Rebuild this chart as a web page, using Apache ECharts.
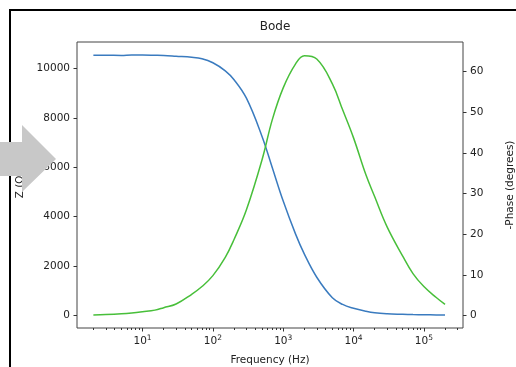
<!DOCTYPE html>
<html>
<head>
<meta charset="utf-8">
<script src="https://cdn.jsdelivr.net/npm/echarts@6/dist/echarts.min.js"></script>
<style>
  html, body { margin: 0; padding: 0; background: #fff; }
  #chart { width: 516px; height: 367px; }
</style>
</head>
<body>
<div id="chart"></div>
<script>
// frequency sweep (Hz)
const freqs = [2, 3, 5, 7, 10, 15, 20, 30, 50, 70, 100, 150, 200, 300, 500, 700,
  1000, 1500, 2000, 3000, 5000, 7000, 10000, 15000, 20000, 30000, 50000, 70000,
  100000, 150000, 200000];
// |Z| in ohms
const impedance = [10540, 10540, 10530, 10550, 10550, 10540, 10530, 10500, 10460, 10400,
  10235, 9910, 9550, 8800, 7250, 5980, 4630, 3290, 2478, 1543, 711, 440,
  284, 162, 100, 61, 40, 28, 20, 16, 12];
// -phase in degrees
const phase = [0.1, 0.2, 0.4, 0.6, 0.9, 1.3, 1.9, 2.8, 5.2, 7.1, 9.8, 14.3, 18.7, 26,
  38.3, 48.2, 56, 61.9, 63.9, 63.1, 57, 50.6, 43.7, 34.6, 29.2, 21.8, 14.6, 10.3,
  7.1, 4.4, 2.7];

const xMajorTicks = [10, 100, 1000, 10000, 100000];
const xMinorTicks = [2, 3, 4, 5, 6, 7, 8, 9, 20, 30, 40, 50, 60, 70, 80, 90,
  200, 300, 400, 500, 600, 700, 800, 900, 2000, 3000, 4000, 5000, 6000, 7000, 8000, 9000,
  20000, 30000, 40000, 50000, 60000, 70000, 80000, 90000, 200000, 300000];
const zTicks = [0, 2000, 4000, 6000, 8000, 10000];
const phaseTicks = [0, 10, 20, 30, 40, 50, 60];

const FONT = "DejaVu Sans";
const TXT = "#222";
const AX = "#444";
const TICK = "#333";

const chart = echarts.init(document.getElementById("chart"));

const supNames = { 10: "1", 100: "2", 1000: "3", 10000: "4", 100000: "5" };

// axis line is drawn by the grid border, so keep it invisible here
const hiddenLine = { show: true, onZero: false, lineStyle: { color: AX, opacity: 0 } };

const gridBox = { left: 77, top: 42, width: 386, height: 286, containLabel: false, outerBoundsMode: "none" };

const option = {
  animation: false,
  textStyle: { fontFamily: FONT },
  title: {
    text: "Bode",
    left: 270,
    top: 16,
    textAlign: "center",
    textStyle: { fontFamily: FONT, fontSize: 12, fontWeight: "normal", color: TXT },
  },
  grid: [
    { ...gridBox, show: true, borderColor: AX, borderWidth: 1 },
    { ...gridBox, show: false },
  ],
  xAxis: [
    {
      type: "log",
      logBase: 10,
      gridIndex: 0,
      min: 1.17,
      max: 360000,
      name: "Frequency (Hz)",
      nameLocation: "middle",
      nameGap: 27,
      nameTextStyle: { fontFamily: FONT, fontSize: 10.5, color: TXT },
      axisLine: hiddenLine,
      splitLine: { show: false },
      axisTick: {
        show: true,
        length: 3.5,
        lineStyle: { color: TICK },
        customValues: xMajorTicks,
      },
      axisLabel: {
        customValues: xMajorTicks,
        margin: 6,
        formatter: (v) => "{b|10}{s|" + (supNames[Math.round(v)] || "") + "}",
        rich: {
          b: { fontFamily: FONT, fontSize: 10.5, color: TXT, lineHeight: 14 },
          s: { fontFamily: FONT, fontSize: 7.5, color: TXT, verticalAlign: "top", lineHeight: 14, padding: [0, 0, 4, 0] },
        },
      },
    },
    {
      // minor ticks of the log axis
      type: "log",
      logBase: 10,
      gridIndex: 1,
      min: 1.17,
      max: 360000,
      position: "bottom",
      axisLine: hiddenLine,
      splitLine: { show: false },
      axisLabel: { show: false },
      axisTick: {
        show: true,
        length: 2,
        lineStyle: { color: TICK },
        customValues: xMinorTicks,
      },
    },
  ],
  yAxis: [
    {
      type: "value",
      gridIndex: 0,
      position: "left",
      min: -515,
      max: 11077,
      name: "Z (Ω)",
      nameLocation: "middle",
      nameRotate: 90,
      nameGap: 45,
      nameTextStyle: { fontFamily: FONT, fontSize: 10.5, color: TXT },
      axisLine: hiddenLine,
      splitLine: { show: false },
      axisTick: { show: true, length: 3.5, lineStyle: { color: TICK }, customValues: zTicks },
      axisLabel: { customValues: zTicks, margin: 7, formatter: (v) => String(v), fontFamily: FONT, fontSize: 10.5, color: TXT },
    },
    {
      type: "value",
      gridIndex: 0,
      position: "right",
      min: -3.1,
      max: 67.3,
      name: "-Phase (degrees)",
      nameLocation: "middle",
      nameRotate: 90,
      nameGap: 42,
      nameTextStyle: { fontFamily: FONT, fontSize: 10.5, color: TXT },
      axisLine: hiddenLine,
      splitLine: { show: false },
      axisTick: { show: true, length: 3.5, lineStyle: { color: TICK }, customValues: phaseTicks },
      axisLabel: { customValues: phaseTicks, margin: 7, formatter: (v) => String(v), fontFamily: FONT, fontSize: 10.5, color: TXT },
    },
    {
      type: "value",
      gridIndex: 1,
      show: false,
      min: 0,
      max: 1,
    },
  ],
  series: [
    {
      name: "Z",
      type: "line",
      xAxisIndex: 0,
      yAxisIndex: 0,
      smooth: 0.4,
      showSymbol: false,
      lineStyle: { color: "#3a7bbf", width: 1.5 },
      data: freqs.map((f, i) => [f, impedance[i]]),
    },
    {
      name: "Phase",
      type: "line",
      xAxisIndex: 0,
      yAxisIndex: 1,
      smooth: 0.4,
      showSymbol: false,
      lineStyle: { color: "#48bf3a", width: 1.5 },
      data: freqs.map((f, i) => [f, phase[i]]),
    },
  ],
  graphic: [
    {
      type: "polyline",
      z: 100,
      shape: { points: [[10, 367], [10, 10], [516, 10]] },
      style: { stroke: "#000", lineWidth: 2, fill: null },
    },
    {
      type: "polygon",
      z: 101,
      shape: { points: [[0, 142], [22, 142], [22, 125], [56, 159], [22, 192], [22, 176], [0, 176]] },
      style: { fill: "#c8c8c8" },
    },
  ],
};

chart.setOption(option);
</script>
</body>
</html>
